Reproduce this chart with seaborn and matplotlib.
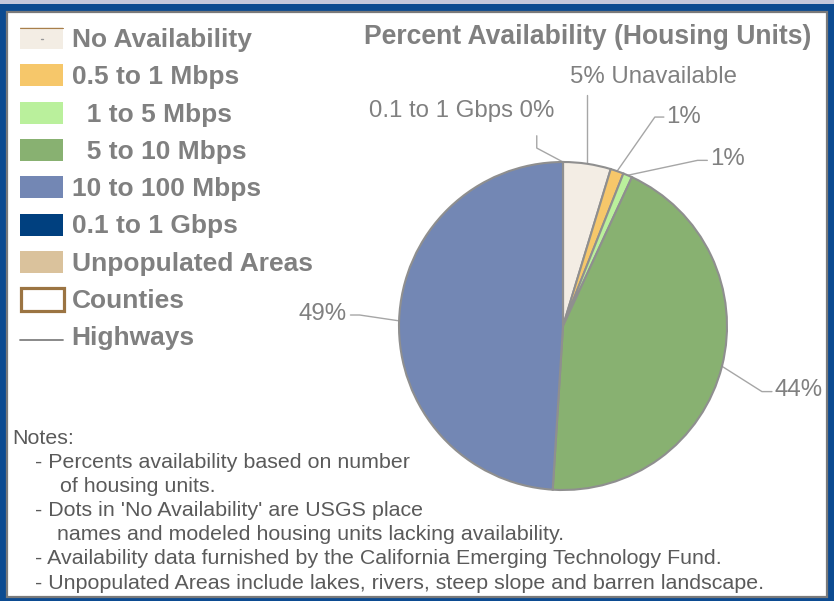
# Broadband availability pie (housing units) with map-style legend and notes
import numpy as np
import matplotlib.pyplot as plt
import seaborn as sns
from matplotlib.patches import Rectangle

# ---- data ----
categories = ["No Availability", "0.5 to 1 Mbps", "1 to 5 Mbps",
              "5 to 10 Mbps", "10 to 100 Mbps", "0.1 to 1 Gbps"]
percents = [4.7, 1.3, 0.9, 44.1, 49.0, 0.0]
slice_colors = ["#f3ede4", "#f6c76a", "#baf09c", "#88b171", "#7387b4", "#00407f"]
label_suffix = [" Unavailable", "", "", "", "", ""]
label_prefix = ["", "", "", "", "", "0.1 to 1 Gbps "]

legend_labels = ["No Availability", "0.5 to 1 Mbps", "  1 to 5 Mbps", "  5 to 10 Mbps",
                 "10 to 100 Mbps", "0.1 to 1 Gbps", "Unpopulated Areas", "Counties", "Highways"]
legend_colors = ["#f3ede4", "#f6c76a", "#baf09c", "#88b171", "#7387b4", "#00407f",
                 "#dac29c", None, None]

notes = [
    (12, "Notes:"),
    (35, "- Percents availability based on number"),
    (60, "of housing units."),
    (35, "- Dots in 'No Availability' are USGS place"),
    (57, "names and modeled housing units lacking availability."),
    (35, "- Availability data furnished by the California Emerging Technology Fund."),
    (35, "- Unpopulated Areas include lakes, rivers, steep slope and barren landscape."),
]

sns.set_theme(style="white")
plt.rcParams['font.family'] = ['Liberation Sans', 'DejaVu Sans']
GRAY = "#808080"

W, H = 834, 601
fig = plt.figure(figsize=(W / 100, H / 100), dpi=100, facecolor="#0c4b91")

# background / frame axes in pixel coordinates
bg = fig.add_axes([0, 0, 1, 1])
bg.set_xlim(0, W)
bg.set_ylim(H, 0)
bg.axis("off")
bg.add_patch(Rectangle((0, 0), W, 3.5, color="#c4c8dc", lw=0))
bg.add_patch(Rectangle((7, 12), 820.5, 585, facecolor="white", edgecolor="#7a7a7a", lw=1.6))

# title
bg.text(364, 37, "Percent Availability (Housing Units)", fontsize=19.1, fontweight="bold",
        color=GRAY, ha="left", va="center")

# legend
row0, step = 38, 37.3
for i, (lab, col) in enumerate(zip(legend_labels, legend_colors)):
    yc = row0 + i * step
    if lab == "Counties":
        bg.add_patch(Rectangle((21, yc - 11), 43, 23, facecolor="white",
                               edgecolor="#9b7442", lw=2.3))
    elif lab == "Highways":
        bg.plot([20, 63], [yc + 4, yc + 4], color=GRAY, lw=1.3)
    else:
        bg.add_patch(Rectangle((20, yc - 11), 43, 22, facecolor=col, lw=0))
        if i == 0:
            bg.plot([20, 63], [yc - 10.5, yc - 10.5], color="#a87f4b", lw=0.8)
            bg.plot([41, 43], [yc + 1, yc + 1], color="#999999", lw=1)
    bg.text(72 if lab != "Highways" else 71, yc + 2, lab, fontsize=19, fontweight="bold",
            color=GRAY, ha="left", va="center")

# notes
for j, (x, line) in enumerate(notes):
    bg.text(x, 438 + j * 24.2, line, fontsize=15.4,
            family=['Liberation Sans Narrow', 'Liberation Sans'],
            color="#5a5a5a", ha="left", va="center")

# pie
cx, cy, r = 563, 326, 164
ax = fig.add_axes([(cx - r) / W, (H - cy - r) / H, 2 * r / W, 2 * r / H])
wedges, _ = ax.pie(percents, colors=slice_colors, startangle=90, counterclock=False,
                   radius=1.0, wedgeprops=dict(edgecolor="#8f8f8f", linewidth=1.5))
ax.set_xlim(-1, 1)
ax.set_ylim(-1, 1)
ax.set_aspect("equal")
ax.axis("off")

# label layout: text anchor, alignment, leader elbow points
layout = [
    dict(text=(0.04, 1.52), ha="left", elbow=[("w", 1.41)]),
    dict(text=(0.63, 1.274), ha="left", elbow=[(0.56, 1.274), (0.615, 1.274)]),
    dict(text=(0.895, 1.02), ha="left", elbow=[(0.82, 1.01), (0.88, 1.01)]),
    dict(text=(1.29, -0.39), ha="left", elbow=[(1.213, -0.40), (1.274, -0.40)]),
    dict(text=(-1.32, 0.073), ha="right", elbow=[(-1.24, 0.067), (-1.296, 0.067)]),
    dict(text=(-0.05, 1.31), ha="right", elbow=[(-0.16, 1.085), (-0.16, 1.16)]),
]

for w, v, pre, suf, lay in zip(wedges, percents, label_prefix, label_suffix, layout):
    mid = np.deg2rad((w.theta1 + w.theta2) / 2)
    wx, wy = np.cos(mid), np.sin(mid)
    pts = [(wx, wy)]
    for ex, ey in lay["elbow"]:
        pts.append((wx if ex == "w" else ex, ey))
    xs, ys = zip(*pts)
    ax.plot(xs, ys, color="#a6a6a6", lw=1, clip_on=False, zorder=0)
    ax.text(*lay["text"], f"{pre}{v:.0f}%{suf}", fontsize=17.3, color=GRAY,
            ha=lay["ha"], va="center", clip_on=False)

fig.savefig("out.png", dpi=100, facecolor=fig.get_facecolor())
